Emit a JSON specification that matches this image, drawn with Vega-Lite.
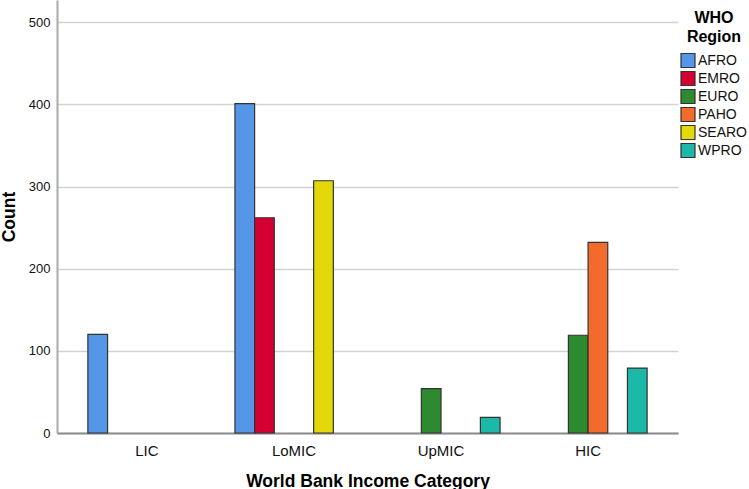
{
  "$schema": "https://vega.github.io/schema/vega-lite/v6.json",
  "autosize": {"type": "none"},
  "padding": {"left": 57, "top": 0, "right": 71, "bottom": 56},
  "width": 621,
  "height": 433,
  "background": "white",
  "data": {
    "values": [
      {"income": "LIC", "region": "AFRO", "count": 120},
      {"income": "LoMIC", "region": "AFRO", "count": 401},
      {"income": "LoMIC", "region": "EMRO", "count": 262},
      {"income": "LoMIC", "region": "SEARO", "count": 307},
      {"income": "UpMIC", "region": "EURO", "count": 54},
      {"income": "UpMIC", "region": "WPRO", "count": 19},
      {"income": "HIC", "region": "EURO", "count": 119},
      {"income": "HIC", "region": "PAHO", "count": 232},
      {"income": "HIC", "region": "WPRO", "count": 79}
    ]
  },
  "config": {
    "view": {"stroke": null},
    "font": "Liberation Sans"
  },
  "mark": {"type": "bar", "stroke": "#333333", "strokeWidth": 1.2},
  "encoding": {
    "x": {
      "field": "income",
      "type": "nominal",
      "sort": ["LIC", "LoMIC", "UpMIC", "HIC"],
      "scale": {"paddingInner": 0.197, "paddingOuter": 0.21},
      "axis": {
        "title": "World Bank Income Category",
        "titleFont": "Liberation Sans",
        "titleFontSize": 17.5,
        "titleFontWeight": "bold",
        "titleColor": "#000",
        "titlePadding": 14,
        "labelAngle": 0,
        "labelFontSize": 15,
        "labelColor": "#111",
        "labelPadding": 10,
        "ticks": false,
        "domainColor": "#8c8c8c",
        "domainWidth": 2
      }
    },
    "xOffset": {
      "field": "region",
      "type": "nominal",
      "scale": {"domain": ["AFRO", "EMRO", "EURO", "PAHO", "SEARO", "WPRO"], "paddingInner": 0, "paddingOuter": 0}
    },
    "y": {
      "field": "count",
      "type": "quantitative",
      "scale": {"domain": [0, 527], "nice": false},
      "axis": {
        "title": "Count",
        "titleFont": "Liberation Sans",
        "titleFontSize": 17.5,
        "titleFontWeight": "bold",
        "titleColor": "#000",
        "titlePadding": 10,
        "values": [0, 100, 200, 300, 400, 500],
        "labelFontSize": 13,
        "labelColor": "#111",
        "labelPadding": 7,
        "ticks": false,
        "domainColor": "#aaaaaa",
        "domainWidth": 2,
        "grid": true,
        "gridColor": "#d2d2d2",
        "gridWidth": 1.5
      }
    },
    "color": {
      "field": "region",
      "type": "nominal",
      "scale": {
        "domain": ["AFRO", "EMRO", "EURO", "PAHO", "SEARO", "WPRO"],
        "range": ["#5596e6", "#d50032", "#2e8a2e", "#f26b2b", "#e3d80a", "#1db9a8"]
      },
      "legend": {
        "title": ["WHO", "Region"],
        "titleFont": "Liberation Sans",
        "titleFontSize": 16,
        "titleFontWeight": "bold",
        "titleColor": "#000",
        "titleLineHeight": 18.5,
        "titleAnchor": "middle",
        "titleAlign": "center",
        "titlePadding": 8,
        "orient": "none",
        "legendX": 623,
        "legendY": 10,
        "symbolType": "square",
        "symbolSize": 196,
        "symbolStrokeColor": "#333333",
        "symbolStrokeWidth": 1.2,
        "symbolOpacity": 1,
        "labelFontSize": 14,
        "labelColor": "#111",
        "labelOffset": 2,
        "rowPadding": -2
      }
    }
  }
}
